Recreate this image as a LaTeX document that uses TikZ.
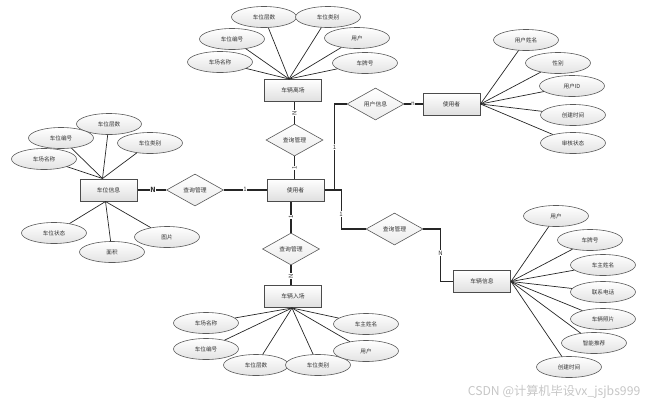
\documentclass[tikz,border=0pt]{standalone}
\usepackage{fontspec}
\setmainfont{Noto Sans CJK SC}
\usetikzlibrary{shapes.geometric}
\begin{document}
\begin{tikzpicture}[x=1pt,y=-1pt,
 attr/.style={ellipse, draw=gray!70!black, line width=0.6pt, top color=white, bottom color=gray!22, minimum width=65pt, minimum height=21pt, inner sep=0pt, font=\fontsize{5.6}{6}\selectfont, text=gray!40!black},
 ent/.style={rectangle, draw=gray!60!black, line width=1pt, top color=white, bottom color=gray!25, minimum width=57pt, minimum height=22pt, inner sep=0pt, font=\fontsize{5.8}{6}\selectfont, text=gray!40!black},
 rel/.style={diamond, aspect=1.8, draw=gray!70!black, line width=0.6pt, top color=white, bottom color=gray!15, minimum width=57pt, minimum height=32pt, inner sep=0pt, font=\fontsize{5.8}{6}\selectfont, text=gray!40!black},
 link/.style={draw=black!85, line width=0.7pt},
 conn/.style={draw=gray!30!black, line width=1.1pt},
 card/.style={font=\fontsize{6}{6}\selectfont, inner sep=0.4pt, fill=white, text=black!80}]
\useasboundingbox (0,0) rectangle (651,405);

% ---------- top: vehicle exit ----------
\node[ent] (exit) at (293,90.5) {车辆离场};
\node[attr] (a1) at (264,17) {车位层数};
\node[attr] (a2) at (328,17) {车位类别};
\node[attr] (a3) at (232,39) {车位编号};
\node[attr] (a4) at (357,38) {用户};
\node[attr] (a5) at (220,62) {车场名称};
\node[attr] (a6) at (365,63) {车牌号};
\coordinate (exitTop) at ([xshift=-4pt]exit.north);
\foreach \n in {a1,a2,a3,a4,a5,a6} \draw[link] (exitTop) -- (\n);

\node[rel] (q1) at (294.5,140) {查询管理};
\node[ent] (u) at (295.5,190) {使用者};
\draw[conn] (q1.north) -- (q1.north |- exit.south);
\draw[conn] (q1.south) -- (q1.south |- u.north);
\node[card, rotate=90] (k1) at (294.5,113) {N};
\node[card, rotate=90] (k2) at (294.5,168) {1};

% ---------- left: parking space info ----------
\node[ent] (park) at (108.5,190) {车位信息};
\node[attr] (b1) at (109,124) {车位层数};
\node[attr] (b2) at (61,138) {车位编号};
\node[attr] (b3) at (150,143) {车位类别};
\node[attr] (b4) at (44,159) {车场名称};
\node[attr] (b5) at (54,233) {车位状态};
\node[attr] (b6) at (112,252) {面积};
\node[attr] (b7) at (167,237) {图片};
\coordinate (parkTop) at ([xshift=-6pt]park.north);
\coordinate (parkBot) at ([xshift=-3pt]park.south);
\foreach \n in {b1,b2,b3,b4} \draw[link] (parkTop) -- (\n);
\foreach \n in {b5,b6,b7} \draw[link] (parkBot) -- (\n);

\node[rel] (q2) at (195,190) {查询管理};
\draw[conn] (park.east) -- (q2.west);
\draw[conn] (q2.east) -- (u.west);
\node[card, font=\fontsize{7}{7}\selectfont\bfseries] (k3) at (153,190) {N};
\node[card] (k4) at (245,189.5) {1};

% ---------- right: user info ----------
\node[rel] (qu) at (375.5,104) {用户信息};
\node[ent] (u2) at (451.5,104) {使用者};
\node[attr] (c1) at (526,40) {用户姓名};
\node[attr] (c2) at (558,63) {性别};
\node[attr] (c3) at (572,86) {用户ID};
\node[attr] (c4) at (573,115) {创建时间};
\node[attr] (c5) at (573,143) {审核状态};
\foreach \n in {c1,c2,c3,c4,c5} \draw[link] (u2.east) -- (\n);
\draw[conn] (u.east) -- ([xshift=10pt]u.east) |- (qu.west);
\draw[conn] (qu.east) -- (u2.west);
\node[card] (k5) at (334.5,147) {1};
\node[card] (k6) at (413,104) {n};

% ---------- bottom: vehicle entry ----------
\node[rel] (q3) at (291,249) {查询管理};
\node[ent] (entry) at (293,296.5) {车辆入场};
\node[attr] (d1) at (206,323) {车场名称};
\node[attr] (d2) at (206,349) {车位编号};
\node[attr] (d3) at (256,365) {车位层数};
\node[attr] (d4) at (318,365) {车位类别};
\node[attr] (d5) at (366,324) {车主姓名};
\node[attr] (d6) at (366,351) {用户};
\coordinate (entryBot) at ([xshift=-1pt]entry.south);
\foreach \n in {d1,d2,d3,d4,d5,d6} \draw[link] (entryBot) -- (\n);
\draw[conn] (q3.north) -- (q3.north |- u.south);
\draw[conn] (q3.south) -- (q3.south |- entry.north);
\node[card, rotate=90] (k7) at (291,217) {1};
\node[card, rotate=90] (k8) at (291,276) {N};

% ---------- bottom right: vehicle info ----------
\node[rel] (q4) at (394.5,229) {查询管理};
\node[ent] (veh) at (482,281.5) {车辆信息};
\node[attr] (e1) at (556,216) {用户};
\node[attr] (e2) at (590,240) {车牌号};
\node[attr] (e3) at (603,265) {车主姓名};
\node[attr] (e4) at (603,292) {联系电话};
\node[attr] (e5) at (603,319) {车辆照片};
\node[attr] (e6) at (594,343) {智能推荐};
\node[attr] (e7) at (569,367) {创建时间};
\foreach \n in {e1,e2,e3,e4,e5,e6,e7} \draw[link] (veh.east) -- (\n);
\draw[conn] (u.east) -- ([xshift=17pt]u.east) |- (q4.west);
\draw[conn] (q4.east) -- ([xshift=17pt]q4.east) |- (veh.west);
\node[card] (k9) at (341,214) {1};
\node[card] (k10) at (440.5,253) {N};

% ---------- watermark ----------
\node[font=\fontsize{12.2}{13}\selectfont, text=gray!45, anchor=east, inner sep=0pt] (wm) at (640.5,392) {CSDN @计算机毕设vx\_jsjbs999};
\end{tikzpicture}
\end{document}
